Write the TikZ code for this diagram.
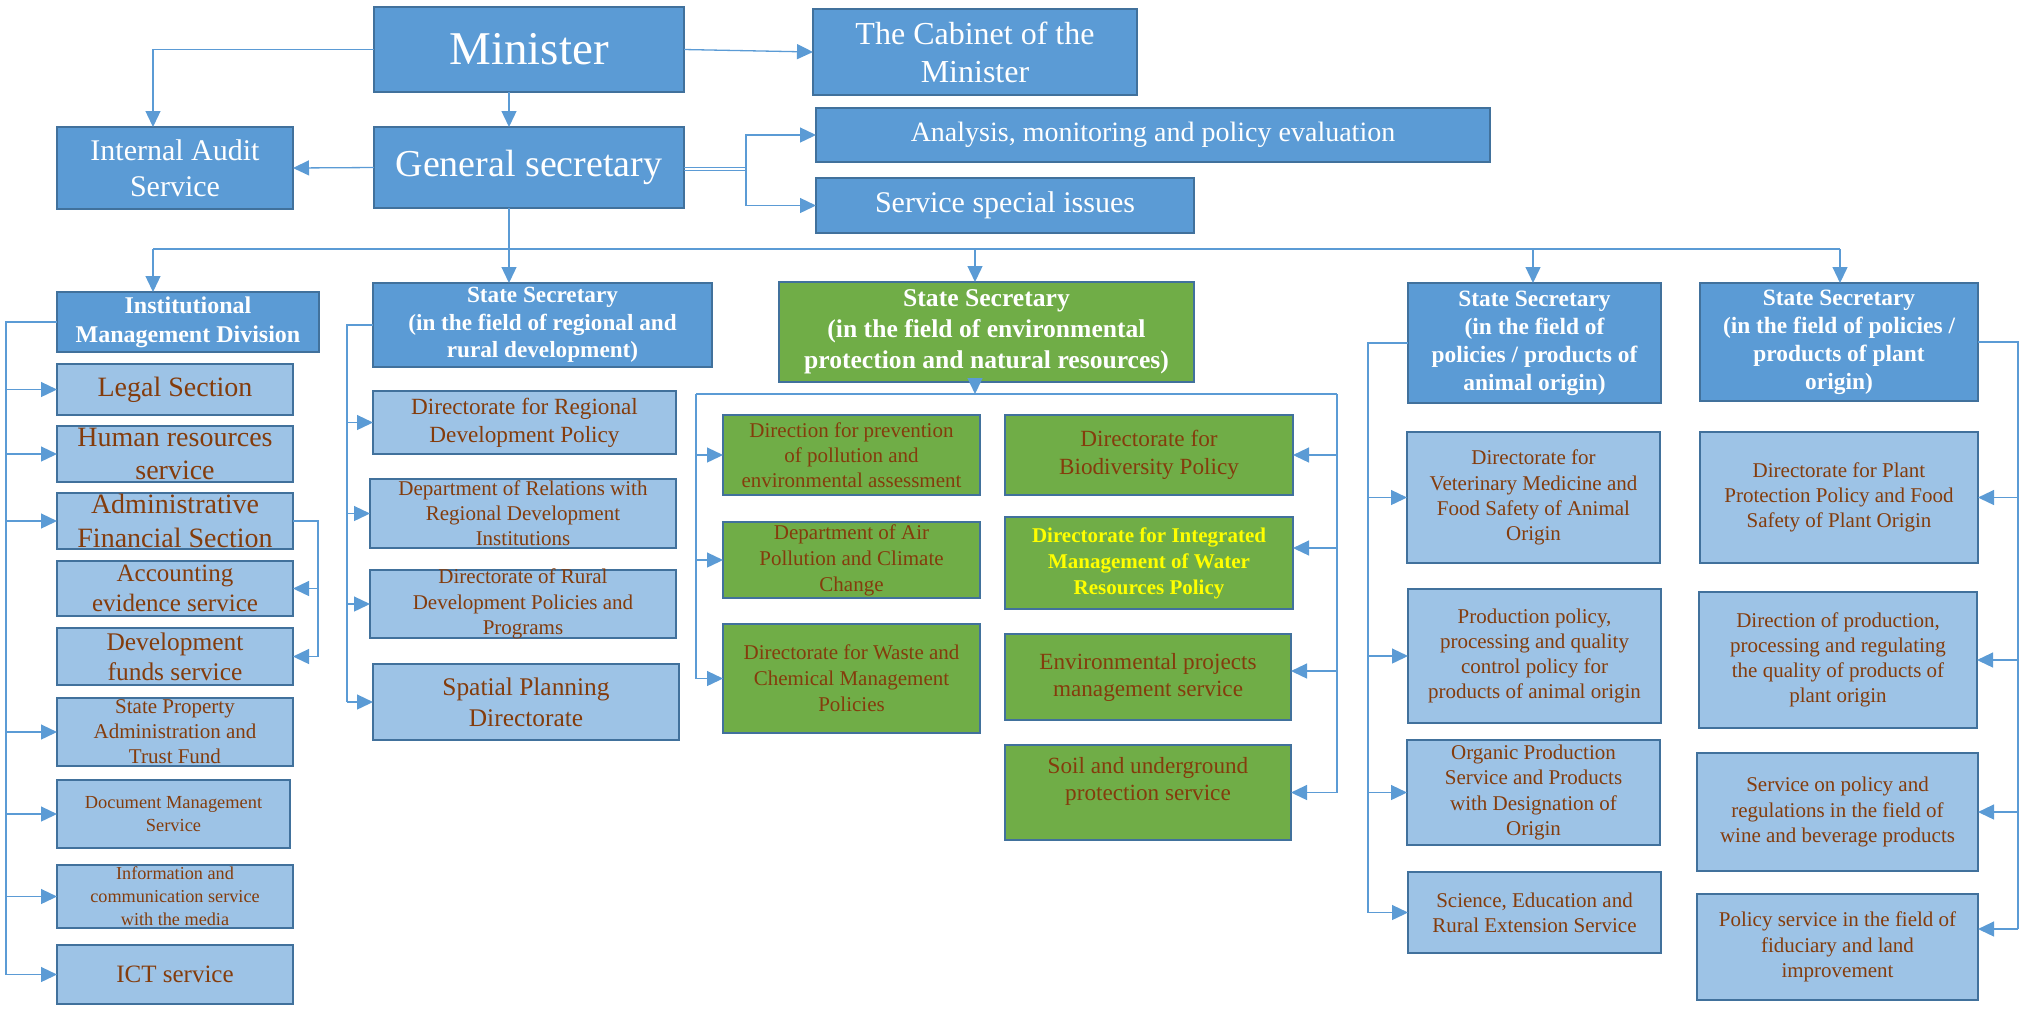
\documentclass[tikz,border=0pt]{standalone}
\usepackage{fontspec}
\setmainfont{Liberation Serif}
\usetikzlibrary{arrows.meta,calc}
\definecolor{dblue}{HTML}{5B9BD5}
\definecolor{lblue}{HTML}{9DC3E6}
\definecolor{gfill}{HTML}{70AD47}
\definecolor{bord}{HTML}{41719C}
\definecolor{brn}{HTML}{843C0C}
\definecolor{lnc}{HTML}{5B9BD5}
\definecolor{yel}{HTML}{FFFF00}
\newcommand\fs[2]{\fontsize{#1pt}{#2pt}\selectfont}
\newcommand\obox[8]{%
  \node[#2, minimum width={(#5-#3)*0.5pt}, minimum height={(#6-#4)*0.5pt}] (#1) at ({(#3+#5)/2},{(#4+#6)/2}) {};
  \node[#7] (#1-t) at (#1.center) {#8};
}
\tikzset{
  boxbase/.style={draw=bord, line width=1.1pt, inner sep=0pt, outer sep=0pt, rectangle},
  dbx/.style={boxbase, fill=dblue},
  lbx/.style={boxbase, fill=lblue},
  gbx/.style={boxbase, fill=gfill},
  tw/.style={text=white, align=center, inner sep=0pt},
  tb/.style={text=brn, align=center, inner sep=0pt},
  ty/.style={text=yel, align=center, inner sep=0pt},
  ln/.style={draw=lnc, line width=0.65pt},
  arr/.style={ln, -{Triangle[length=8pt,width=7.5pt]}},
}
\begin{document}
\begin{tikzpicture}[x=0.5pt,y=-0.5pt]
\useasboundingbox (0,0) rectangle (2022,1009);
% top
\obox{min}{dbx}{374}{7}{684}{92}{tw,font=\fs{23.5}{28}}{Minister}
\obox{cab}{dbx}{813}{9}{1137}{95}{tw,font=\fs{16}{19}}{The Cabinet of the\\Minister}
\obox{ia}{dbx}{57}{127}{293}{209}{tw,font=\fs{15}{18}}{Internal Audit\\Service}
\obox{gs}{dbx}{374}{127}{684}{208}{tw,font=\fs{19}{22}}{General secretary}
\obox{ana}{dbx}{816}{108}{1490}{162}{tw,font=\fs{14}{17}}{Analysis, monitoring and policy evaluation}
\obox{svc}{dbx}{816}{178}{1194}{233}{tw,font=\fs{15}{18}}{Service special issues}
% column 1
\obox{imd}{dbx}{57}{292}{319}{352}{tw,font=\fs{12}{14.5}\bfseries}{Institutional\\Management Division}
\obox{legal}{lbx}{57}{364}{293}{415}{tb,font=\fs{14}{16.7}}{Legal Section}
\obox{hr}{lbx}{57}{426}{293}{482}{tb,font=\fs{14}{16.7}}{Human resources\\service}
\obox{afs}{lbx}{57}{493}{293}{549}{tb,font=\fs{14}{16.7}}{Administrative\\Financial Section}
\obox{acc}{lbx}{57}{561}{293}{616}{tb,font=\fs{12.5}{15}}{Accounting\\evidence service}
\obox{dev}{lbx}{57}{628}{293}{685}{tb,font=\fs{12.7}{15}}{Development\\funds service}
\obox{spa}{lbx}{57}{698}{293}{766}{tb,font=\fs{10.5}{12.5}}{State Property\\Administration and\\Trust Fund}
\obox{dms}{lbx}{57}{780}{290}{848}{tb,font=\fs{9.2}{11.5}}{Document Management\\Service}
\obox{ics}{lbx}{57}{865}{293}{928}{tb,font=\fs{9.1}{11.5}}{Information and\\communication service\\with the media}
\obox{ict}{lbx}{57}{945}{293}{1004}{tb,font=\fs{12.5}{15}}{ICT service}
% column 2
\obox{ssr}{dbx}{373}{283}{712}{367}{tw,font=\fs{11.6}{13.8}\bfseries}{State Secretary\\(in the field of regional and\\rural development)}
\obox{drp}{lbx}{373}{391}{676}{454}{tb,font=\fs{11.6}{14}}{Directorate for Regional\\Development Policy}
\obox{drel}{lbx}{370}{479}{676}{548}{tb,font=\fs{10.5}{12.5}}{Department of Relations with\\Regional Development\\Institutions}
\obox{drur}{lbx}{370}{570}{676}{638}{tb,font=\fs{10.5}{12.7}}{Directorate of Rural\\Development Policies and\\Programs}
\obox{spat}{lbx}{373}{664}{679}{740}{tb,font=\fs{12.7}{15.5}}{Spatial Planning\\Directorate}
% environment column
\obox{sse}{gbx}{779}{282}{1194}{382}{tw,font=\fs{12.8}{15.5}\bfseries}{State Secretary\\(in the field of environmental\\protection and natural resources)}
\obox{dpv}{gbx}{723}{415}{980}{495}{tb,font=\fs{10.5}{12.5}}{Direction for prevention\\of pollution and\\environmental assessment}
\obox{dair}{gbx}{723}{522}{980}{598}{tb,font=\fs{10.5}{13}}{Department of Air\\Pollution and Climate\\Change}
\obox{dwas}{gbx}{723}{624}{980}{733}{tb,font=\fs{10.5}{13}}{Directorate for Waste and\\Chemical Management\\Policies}
\obox{bio}{gbx}{1005}{415}{1293}{495}{tb,font=\fs{11.6}{14}}{Directorate for\\Biodiversity Policy}
\obox{wat}{gbx}{1005}{517}{1293}{609}{ty,font=\fs{10.5}{13}\bfseries}{Directorate for Integrated\\Management of Water\\Resources Policy}
\obox{envp}{gbx}{1005}{634}{1291}{720}{tb,font=\fs{11.6}{13.5}}{Environmental projects\\management service}
\obox{soil}{gbx}{1005}{745}{1291}{840}{tb,font=\fs{11.6}{13.5},yshift=5.5pt}{Soil and underground\\protection service}
% animal column
\obox{ssa}{dbx}{1408}{283}{1661}{403}{tw,font=\fs{11.7}{14}\bfseries}{State Secretary\\(in the field of\\policies / products of\\animal origin)}
\obox{vet}{lbx}{1407}{432}{1660}{563}{tb,font=\fs{10.5}{12.6}}{Directorate for\\Veterinary Medicine and\\Food Safety of Animal\\Origin}
\obox{prod}{lbx}{1408}{589}{1661}{723}{tb,font=\fs{10.5}{12.6}}{Production policy,\\processing and quality\\control policy for\\products of animal origin}
\obox{org}{lbx}{1407}{740}{1660}{845}{tb,font=\fs{10.5}{12.6}}{Organic Production\\Service and Products\\with Designation of\\Origin}
\obox{sci}{lbx}{1408}{872}{1661}{953}{tb,font=\fs{10.5}{12.6}}{Science, Education and\\Rural Extension Service}
% plant column
\obox{ssp}{dbx}{1700}{283}{1978}{401}{tw,font=\fs{11.7}{14}\bfseries}{State Secretary\\(in the field of policies /\\products of plant\\origin)}
\obox{pp}{lbx}{1700}{432}{1978}{563}{tb,font=\fs{10.5}{12.6}}{Directorate for Plant\\Protection Policy and Food\\Safety of Plant Origin}
\obox{dprod}{lbx}{1699}{592}{1977}{728}{tb,font=\fs{10.5}{12.6}}{Direction of production,\\processing and regulating\\the quality of products of\\plant origin}
\obox{wine}{lbx}{1697}{753}{1978}{871}{tb,font=\fs{10.5}{12.6}}{Service on policy and\\regulations in the field of\\wine and beverage products}
\obox{fid}{lbx}{1697}{894}{1978}{1000}{tb,font=\fs{10.5}{12.6}}{Policy service in the field of\\fiduciary and land\\improvement}

% ---- connectors: top
\draw[arr] (min.west) -| ($(ia.north)+(-22,0)$);
\coordinate (gsb) at ($(gs.south)+(-20,0)$);
\coordinate (mns) at ($(min.south)+(-20,0)$);
\draw[arr] (mns) -- (mns |- gs.north);
\draw[arr] (min.east) -- (cab.west);
\draw[arr] (gs.west) -- (ia.east);
\coordinate (gsr) at (746,169);
\draw[ln] (gs.east) -- (gs.east -| gsr);
\draw[ln] ($(gs.east)+(0,3)$) -- ($(gs.east)+(62,3)$);
\draw[arr] (gsr) |- (ana.west);
\draw[arr] (gsr) |- (svc.west);
% main bus
\coordinate (bl) at (153,249);
\coordinate (br) at (1840,249);
\coordinate (b3) at (975,249);
\coordinate (b4) at (1533,249);
\draw[ln] (gsb) -- (gsb |- bl);
\draw[ln] (bl) -- (br);
\draw[arr] (bl) -- (bl |- imd.north);
\draw[arr] (gsb |- bl) -- (gsb |- ssr.north);
\draw[arr] (b3) -- (b3 |- sse.north);
\draw[arr] (b4) -- (b4 |- ssa.north);
\draw[arr] (br) -- (br |- ssp.north);
% column 1
\coordinate (c1) at (6,0);
\draw[ln] (imd.west) -- (c1 |- imd.west) -- (c1 |- ict.west);
\foreach \n in {legal,hr,afs,spa,dms,ics,ict} \draw[arr] (c1 |- \n.west) -- (\n.west);
\coordinate (c1r) at (318,0);
\draw[ln] (afs.east) -- (c1r |- afs.east) -- (c1r |- dev.east);
\draw[arr] (c1r |- acc.east) -- (acc.east);
\draw[arr] (c1r |- dev.east) -- (dev.east);
% column 2
\coordinate (c2) at (347,0);
\draw[ln] (ssr.west) -- (c2 |- ssr.west) -- (c2 |- spat.west);
\foreach \n in {drp,drel,drur,spat} \draw[arr] (c2 |- \n.west) -- (\n.west);
% environment
\coordinate (e0) at (975,394);
\coordinate (el) at (696,394);
\coordinate (er) at (1337,394);
\draw[arr] (e0 |- sse.south) -- (e0);
\draw[ln] (el) -- (er);
\draw[ln] (el) -- (el |- dwas.west);
\draw[ln] (er) -- (er |- soil.east);
\foreach \n in {dpv,dair,dwas} \draw[arr] (el |- \n.west) -- (\n.west);
\coordinate (wate) at ($(wat.east)+(0,-15)$);
\coordinate (envpe) at ($(envp.east)+(0,-6)$);
\draw[arr] (er |- bio.east) -- (bio.east);
\draw[arr] (er |- wate) -- (wate);
\draw[arr] (er |- envpe) -- (envpe);
\draw[arr] (er |- soil.east) -- (soil.east);
% animal
\coordinate (c4) at (1368,0);
\draw[ln] (ssa.west) -- (c4 |- ssa.west) -- (c4 |- sci.west);
\foreach \n in {vet,prod,org,sci} \draw[arr] (c4 |- \n.west) -- (\n.west);
% plant
\coordinate (c5) at (2018,0);
\coordinate (fide) at ($(fid.east)+(0,-18)$);
\draw[ln] (ssp.east) -- (c5 |- ssp.east) -- (c5 |- fide);
\foreach \n in {pp,dprod,wine} \draw[arr] (c5 |- \n.east) -- (\n.east);
\draw[arr] (c5 |- fide) -- (fide);
\end{tikzpicture}
\end{document}
